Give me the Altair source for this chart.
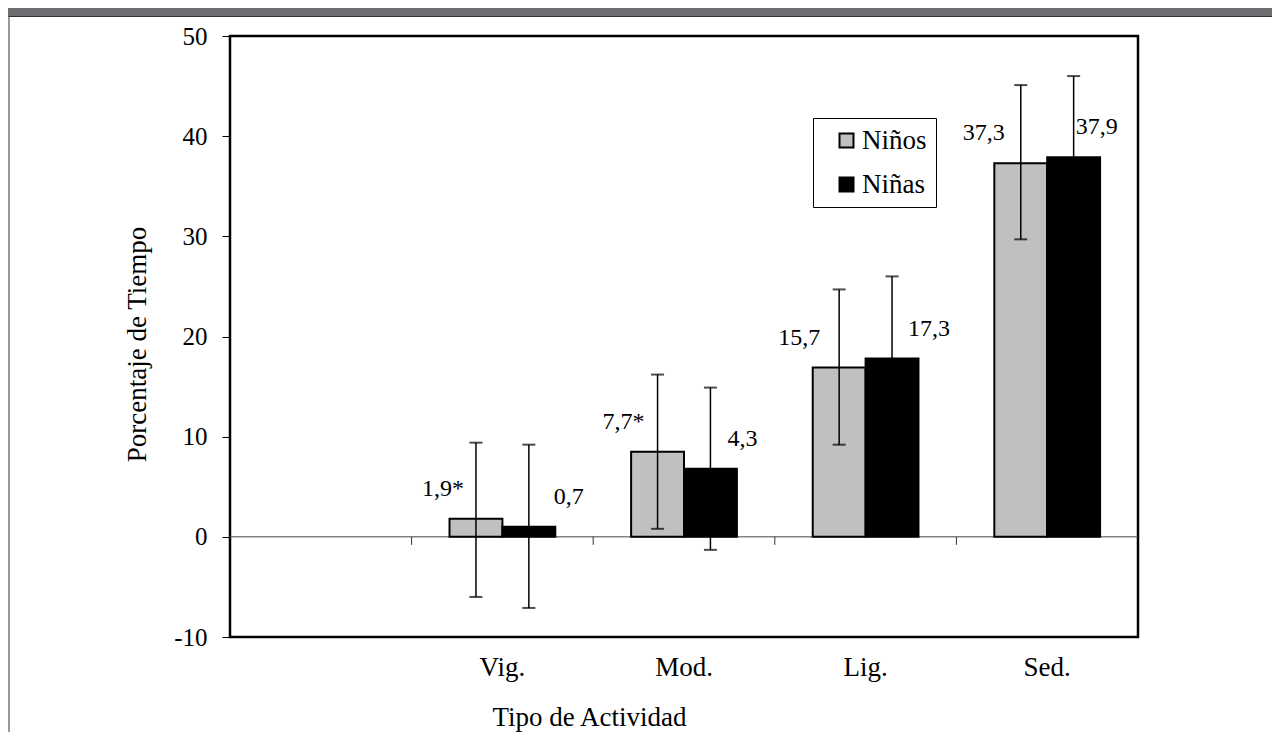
import altair as alt
import pandas as pd

# ---- data ----
categories = ["Vig.", "Mod.", "Lig.", "Sed."]
slots = [""] + categories
groups = ["Niños", "Niñas"]

ninos_values = [1.8, 8.5, 16.9, 37.3]
ninos_low = [-6.0, 0.8, 9.2, 29.7]
ninos_high = [9.4, 16.2, 24.7, 45.1]
ninos_labels = ["1,9*", "7,7*", "15,7", "37,3"]

ninas_values = [1.0, 6.8, 17.8, 37.9]
ninas_low = [-7.1, -1.3, 9.7, 29.8]
ninas_high = [9.2, 14.9, 26.0, 46.0]
ninas_labels = ["0,7", "4,3", "17,3", "37,9"]

y_ticks = [-10, 0, 10, 20, 30, 40, 50]

# ---- table ----
rows = []
for i, c in enumerate(categories):
    rows.append(dict(cat=c, grupo="Niños", valor=ninos_values[i], low=ninos_low[i],
                     high=ninos_high[i], label=ninos_labels[i]))
    rows.append(dict(cat=c, grupo="Niñas", valor=ninas_values[i], low=ninas_low[i],
                     high=ninas_high[i], label=ninas_labels[i]))
df = pd.DataFrame(rows)

FONT = "'Liberation Serif', 'Times New Roman', Times, serif"
W, H = 908, 601
PAD_L, PAD_T = 222, 28
PAD_R = 1264 - PAD_L - W
PAD_B = 724 - PAD_T - H

x_scale = alt.Scale(domain=slots, paddingInner=0, paddingOuter=0)
y_scale = alt.Scale(domain=[-10, 50], nice=False, zero=False)
off_scale = alt.Scale(domain=groups, paddingInner=0, paddingOuter=0.717)

x_axis = alt.Axis(labelFontSize=27, ticks=False, tickSize=0, domain=False, grid=False,
                  labelPadding=38, labelBaseline="alphabetic", labelAngle=0,
                  labelFont=FONT, titleFont=FONT,
                  titleFontSize=27, titleX=359, titleY=88, titleAlign="center",
                  titleBaseline="alphabetic")
y_axis = alt.Axis(values=y_ticks, labelExpr="'' + datum.value", labelFontSize=25,
                  tickSize=8, tickColor="black", tickWidth=1, labelPadding=15,
                  domain=False, grid=False, labelBaseline="middle",
                  labelFont=FONT, titleFont=FONT,
                  titleFontSize=27, titleX=-93, titleY=308, titleAngle=270,
                  titleAlign="center", titleBaseline="middle")

X_TITLE = "Tipo de Actividad"
Y_TITLE = "Porcentaje de Tiempo"


def xe(field="cat:N", **kw):
    return alt.X(field, scale=x_scale, axis=x_axis, title=X_TITLE, **kw)


def ye(field):
    return alt.Y(field, scale=y_scale, axis=y_axis, title=Y_TITLE)


xo = alt.XOffset("grupo:N", scale=off_scale)

base = alt.Chart(df)

NBSP2 = "\u00a0\u00a0"

bars = base.mark_bar(stroke="black", strokeWidth=2).encode(
    x=xe(), xOffset=xo, y=ye("valor:Q"),
    color=alt.Color("grupo:N", scale=alt.Scale(domain=groups, range=["#c0c0c0", "#000000"]),
                    legend=alt.Legend(title=None, orient="none", legendX=583, legendY=82,
                                      direction="vertical", fillColor="white",
                                      strokeColor="black", padding=9,
                                      symbolType="square", symbolSize=196,
                                      symbolStrokeColor="black", symbolStrokeWidth=2,
                                      symbolOpacity=1, symbolOffset=11,
                                      labelFont=FONT, labelFontSize=27, labelColor="black",
                                      labelOffset=2, rowPadding=16,
                                      labelExpr="datum.label + '" + NBSP2 + "'")),
)

whisk = base.mark_rule(color="black", strokeWidth=1.5).encode(
    x=xe(), xOffset=xo, y=ye("low:Q"), y2="high:Q")
cap_hi = base.mark_tick(orient="horizontal", size=13, thickness=2, color="black").encode(
    x=xe(), xOffset=xo, y=ye("high:Q"))
cap_lo = base.mark_tick(orient="horizontal", size=13, thickness=2, color="black").encode(
    x=xe(), xOffset=xo, y=ye("low:Q"))

# zero line and small ticks on it
zero_df = pd.DataFrame({"zero": [0]})
zero_line = alt.Chart(zero_df).mark_rule(color="#444", strokeWidth=1).encode(y=ye("zero:Q"))
tick_df = pd.DataFrame({"cat": categories, "zero": [0] * 4, "below": [-0.8] * 4})
zero_ticks = alt.Chart(tick_df).mark_rule(color="#333", strokeWidth=1).encode(
    x=xe("cat:N", bandPosition=0), y=ye("zero:Q"), y2="below:Q")

# value labels
dx_ninos = [-33, -34, -40, -37]
dx_ninas = [40, 32, 37, 23]
label_layers = []
for i, c in enumerate(categories):
    for g, dxl in (("Niños", dx_ninos[i]), ("Niñas", dx_ninas[i])):
        label_layers.append(
            base.transform_filter((alt.datum.cat == c) & (alt.datum.grupo == g))
            .mark_text(font=FONT, fontSize=24, color="black", align="center",
                       baseline="middle", dx=dxl, dy=-30)
            .encode(x=xe(), xOffset=xo, y=ye("valor:Q"), text="label:N")
        )

# page decoration (grey band at top, thin left border)
deco_df = pd.DataFrame({"a": [0]})
band = alt.Chart(deco_df).mark_rect(color="#6d6e71").encode(
    x=alt.value(-PAD_L), x2=alt.value(W + PAD_R), y=alt.value(-PAD_T), y2=alt.value(-PAD_T + 8))
band_line = alt.Chart(deco_df).mark_rule(color="#333", strokeWidth=1.2).encode(
    x=alt.value(-PAD_L), x2=alt.value(W + PAD_R), y=alt.value(-PAD_T + 8.5))
left_line = alt.Chart(deco_df).mark_rule(color="#555", strokeWidth=1.2).encode(
    x=alt.value(-PAD_L + 1), y=alt.value(-PAD_T + 8), y2=alt.value(H + PAD_B))

chart = alt.layer(
    band, band_line, left_line,
    zero_line, zero_ticks, bars, whisk, cap_hi, cap_lo, *label_layers
).properties(
    width=W, height=H,
    autosize=alt.AutoSizeParams(type="none"),
    padding={"left": PAD_L, "top": PAD_T, "right": PAD_R, "bottom": PAD_B},
    background="white",
).configure_view(
    stroke="black", strokeWidth=2.5
).configure_axis(
    labelFont=FONT, titleFont=FONT, labelColor="black", titleColor="black",
    titleFontWeight="normal"
)

chart.save("out.html", embed_options={"renderer": "svg", "actions": False})
